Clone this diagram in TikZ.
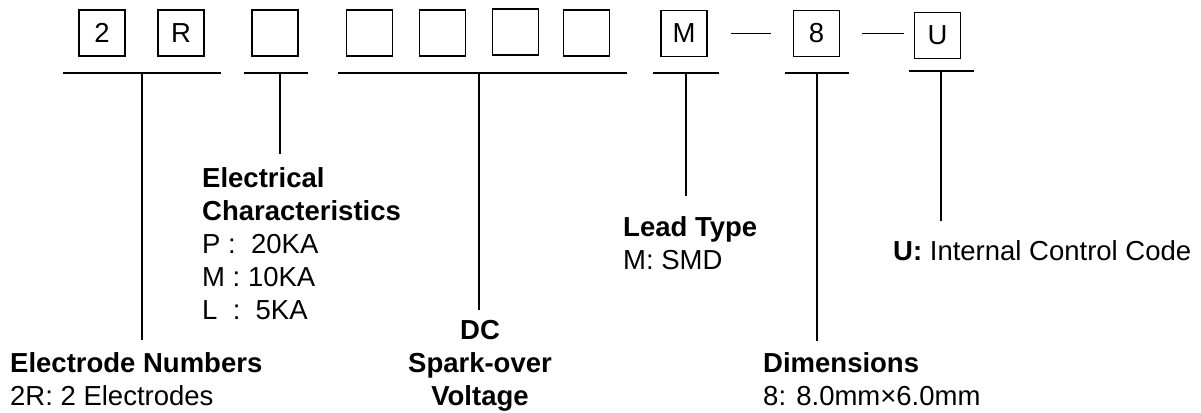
\documentclass[tikz,border=0pt]{standalone}
\usepackage{fontspec}
\setmainfont{Liberation Sans}
\usetikzlibrary{positioning}

\begin{document}
\begin{tikzpicture}[x=1pt,y=-1pt,
    digit/.style={draw,line width=1.3pt,minimum width=46pt,minimum height=46pt,inner sep=0pt,
      font=\fontsize{27.5}{33}\selectfont},
    bar/.style={line width=1.3pt},
    desc/.style={inner sep=0pt,align=left,font=\fontsize{27.5}{33}\selectfont}]
  \useasboundingbox (0,0) rectangle (1201,412);

  % code boxes
  \foreach \n/\x/\y/\t in {b1/102/33/2, b2/181/33/R, b3/275/33/{}, b4/369.5/33/{},
      b5/442.5/33/{}, b6/515.5/32/{}, b7/586.5/33/{}, bM/684/33.5/M, b8/816.5/33.5/8, bU/937.5/35.5/U}
    \node[digit] (\n) at (\x,\y) {\t};

  % dashes between the last boxes
  \draw[bar] ([xshift=23pt]bM.east) -- ([xshift=-22pt]b8.west);
  \draw[bar] ([xshift=22pt]b8.east) -- ([xshift=-10pt]bU.west |- b8.east);

  % bars and stems
  \foreach \i/\y/\a/\b/\m/\e in {1/73/63/221/142/340, 2/73/244/308/280/154, 3/73/338/627/479/310,
      4/73/653/719/686/196, 5/73/785/849/817/341, 6/71/909/974/941/221} {
    \coordinate (l\i) at (\a,\y);
    \coordinate (r\i) at (\b,\y);
    \coordinate (top\i) at (\m,\y);
    \coordinate (end\i) at (\m,\e);
    \draw[bar] (l\i) -- (r\i);
    \draw[bar] (top\i) -- (end\i);
  }

  % descriptions (base = last line)
  \node[desc,anchor=base west] (numbers) at (10,405) {\textbf{Electrode Numbers}\\2R: 2 Electrodes};
  \node[desc,anchor=base west] (elec) at (202,319)
    {\textbf{Electrical}\\\textbf{Characteristics}\\P :~~20KA\\M : 10KA\\L~~:~~5KA};
  \node[desc,anchor=base,align=center] (dcv) at (480,405) {\textbf{DC}\\\textbf{Spark-over}\\\textbf{Voltage}};
  \node[desc,anchor=base west] (lead) at (623,269) {\textbf{Lead Type}\\M: SMD};
  \node[desc,anchor=base west] (dims) at (763,405) {\textbf{Dimensions}\\8: 8.0mm×6.0mm};
  \node[desc,anchor=base west] (code) at (893,260) {\textbf{U:} Internal Control Code};
\end{tikzpicture}
\end{document}
